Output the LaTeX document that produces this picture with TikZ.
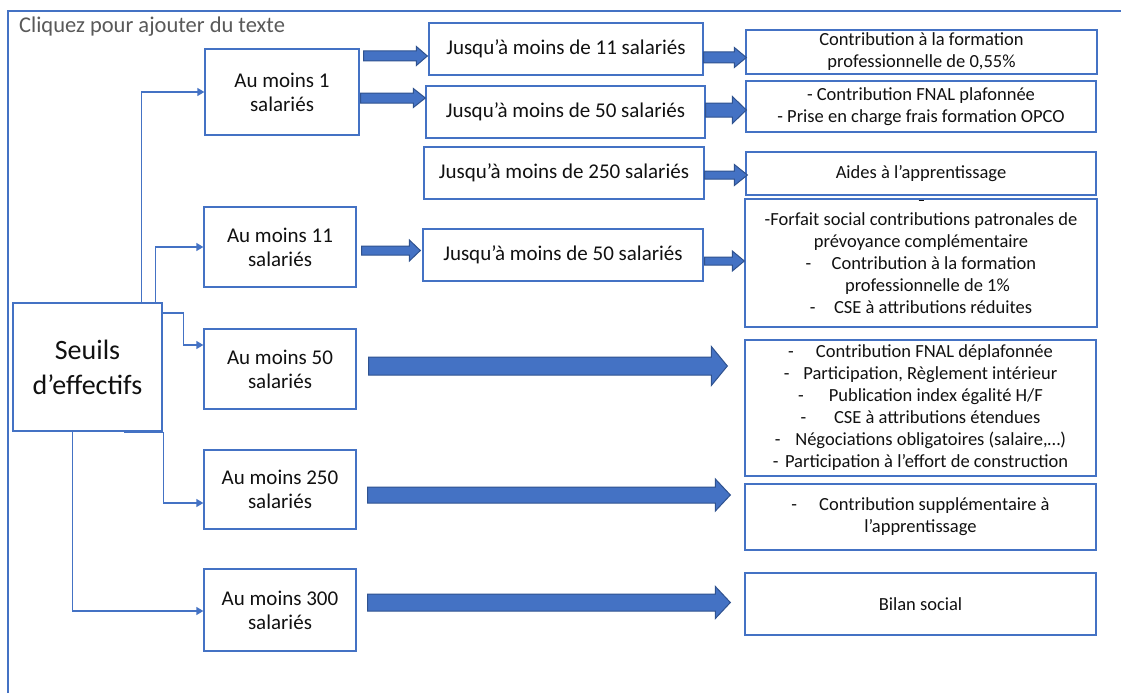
\documentclass[tikz,border=0pt]{standalone}
\usepackage{fontspec}
\setmainfont{Carlito}
\usetikzlibrary{calc,arrows.meta}
\definecolor{boxblue}{HTML}{4472C4}
\definecolor{arrline}{HTML}{2F528F}
\definecolor{txt}{HTML}{111111}
\definecolor{ttl}{HTML}{595959}
\newcommand\fmid{\fontsize{21}{24}\selectfont}
\newcommand\fright{\fontsize{18.5}{22}\selectfont}
\newcommand\fbig{\fontsize{28}{35}\selectfont}
% block arrow: #1 src node, #2 tgt node, #3 image y, #4 start gap, #5 end gap, #6 shaft hw, #7 head hw, #8 head length
\newcommand\barrow[8]{%
  \draw[bigarr] let \p1=($(#1.east |- 0,#3)+(#4,0)$), \p2=($(#2.west |- 0,#3)+(-#5,0)$) in
    (\x1,\y1+#6) -- (\x2-#8,\y1+#6) -- (\x2-#8,\y1+#7) -- (\x2,\y1) --
    (\x2-#8,\y1-#7) -- (\x2-#8,\y1-#6) -- (\x1,\y1-#6) -- cycle;}
\newcommand\dsh[1]{-\hspace{#1}}
\begin{document}
\begin{tikzpicture}[x=1pt,y=-1pt,
  box/.style={draw=boxblue, line width=1.3pt, inner sep=0pt, align=center, text=txt, font=\fmid},
  rbox/.style={box, font=\fright},
  bigarr/.style={fill=boxblue, draw=arrline, line width=1pt, line join=miter},
  conn/.style={draw=boxblue, line width=1.3pt, -{Triangle[length=7pt,width=8pt]}},
  frame/.style={draw=boxblue, line width=1.2pt}]
\useasboundingbox[fill=white] (0,0) rectangle (1121,693);

\draw[frame] (8,693) -- (8,11) -- (1121,11);
\node[anchor=west, text=ttl, font=\fontsize{22.5}{26}\selectfont, inner sep=0pt] (title) at (19,27) {Cliquez pour ajouter du texte};

% left column
\node[box, font=\fbig, minimum width=149, minimum height=128] (seuils) at (87.5,367) {Seuils\\d’effectifs};
\node[box, minimum width=154, minimum height=86] (am1) at (282,92) {Au moins 1\\salariés};
\node[box, minimum width=152, minimum height=80] (am11) at (280,247) {Au moins 11\\salariés};
\node[box, minimum width=152, minimum height=80] (am50) at (280,369) {Au moins 50\\salariés};
\node[box, minimum width=152, minimum height=79] (am250) at (280,489.5) {Au moins 250\\salariés};
\node[box, minimum width=152, minimum height=82] (am300) at (280,610) {Au moins 300\\salariés};

% middle column
\node[box, minimum width=274, minimum height=52] (j11) at (566,49) {Jusqu’à moins de 11 salariés};
\node[box, minimum width=279, minimum height=52] (j50a) at (565.5,112) {Jusqu’à moins de 50 salariés};
\node[box, minimum width=280, minimum height=52] (j250) at (564,173) {Jusqu’à moins de 250 salariés};
\node[box, minimum width=280, minimum height=52] (j50b) at (563,255) {Jusqu’à moins de 50 salariés};

% right column
\node[rbox, minimum width=351, minimum height=44] (r1) at (921.5,52) {Contribution à la formation\\professionnelle de 0,55\%};
\node[rbox, minimum width=350, minimum height=51] (r2) at (921,106.5) {- Contribution FNAL plafonnée\\- Prise en charge frais formation OPCO};
\node[rbox, minimum width=350, minimum height=43] (r3) at (921,173.5) {Aides à l’apprentissage};
\node[rbox, minimum width=352, minimum height=128] (r4) at (921,263) {-Forfait social contributions patronales de\\prévoyance complémentaire\\\dsh{1.1em}Contribution à la formation\\\hspace{0.7em}professionnelle de 1\%\\\dsh{1em}CSE à attributions réduites};
\node[rbox, minimum width=351, minimum height=136] (r5) at (920.5,408) {\dsh{1.2em}Contribution FNAL déplafonnée\\\dsh{0.75em}Participation, Règlement intérieur\\\dsh{1.35em}Publication index égalité H/F\\\dsh{1.5em}CSE à attributions étendues\\\dsh{0.8em}Négociations obligatoires (salaire,…)\\\dsh{0.35em}Participation à l’effort de construction};
\node[rbox, minimum width=351, minimum height=66] (r6) at (920.5,517) {\dsh{1.2em}Contribution supplémentaire à\\l’apprentissage};
\node[rbox, minimum width=351, minimum height=62] (r7) at (920.5,604) {Bilan social};
\draw[txt, line width=1.2pt] ($(r4.north)+(-2.5,2)$) -- ++(5,0);

% thin connectors
\draw[conn] ($(seuils.north west)+(129,0)$) |- (am1.west);
\draw[conn] ($(seuils.north west)+(143,0)$) |- (am11.west);
\draw[conn] (seuils.east |- 0,313) -- ++(21,0) |- ($(am50.west)+(0,-24)$);
\draw[conn] ($(seuils.south west)+(112,1)$) -- ++(39,0) |- ($(am250.west)+(0,13.5)$);
\draw[conn] ($(seuils.south west)+(60,0)$) |- ($(am300.west)+(0,1)$);

% block arrows
\barrow{am1}{j11}{56}{4}{1}{5}{9.5}{11}
\barrow{am1}{j50a}{98}{1}{0}{5}{9.5}{12}
\barrow{am11}{j50b}{250.5}{5}{2}{4.5}{10.5}{11}
\barrow{j11}{r1}{57.5}{0}{-1}{5.5}{10}{12}
\barrow{j50a}{r2}{110}{0}{-1}{7}{13.5}{14}
\barrow{j250}{r3}{175}{0}{-2}{4}{10.5}{13}
\barrow{j50b}{r4}{261}{1}{0}{4}{10}{12}
\barrow{am50}{r5}{366}{12}{17}{9}{19.5}{16}
\barrow{am250}{r6}{495}{11}{14}{8}{16}{15}
\barrow{am300}{r7}{602.5}{11}{14}{8.5}{16}{15}
\end{tikzpicture}
\end{document}
